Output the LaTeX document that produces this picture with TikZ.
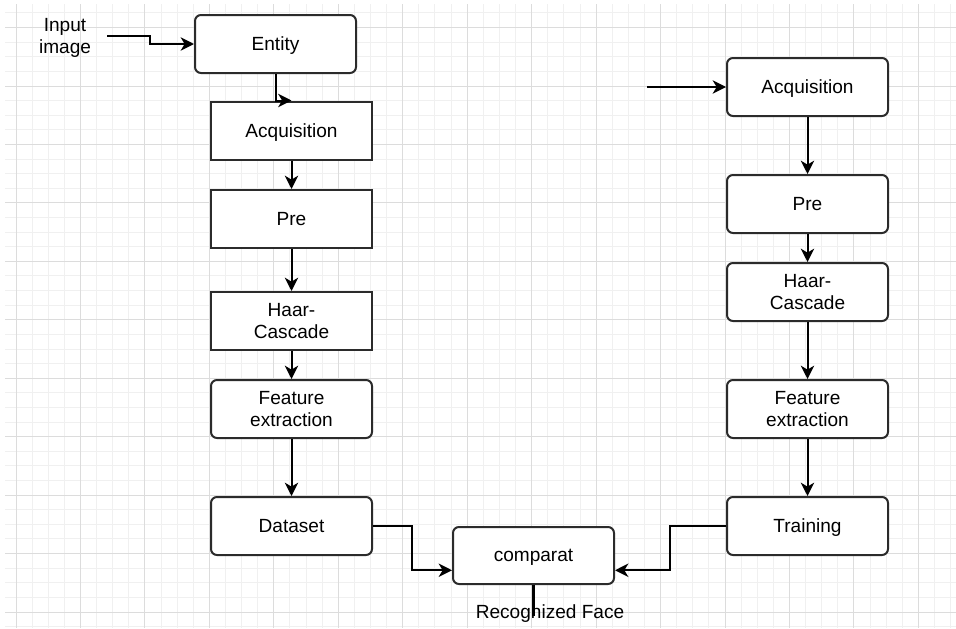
\documentclass[tikz,border=0pt]{standalone}
\usepackage{fontspec}
\setmainfont{Liberation Sans}
\usetikzlibrary{arrows.meta,calc}
\definecolor{gmaj}{HTML}{DCDCDC}
\definecolor{gmin}{HTML}{F0F0F0}
\definecolor{edge}{HTML}{2B2B2B}
\tikzset{
  box/.style={draw=edge, line width=1.5pt, fill=white, minimum width=120.75pt, minimum height=43.5pt,
    align=center, font=\fontsize{14.3pt}{16pt}\selectfont, inner sep=0pt, text depth=0pt},
  rbox/.style={box, rounded corners=4.5pt},
  conn/.style={line width=1.5pt, draw=black},
  arr/.style={conn, -{Stealth[length=10pt,width=10pt,inset=3pt]}},
  lbl/.style={align=center, font=\fontsize{14.3pt}{16pt}\selectfont, inner sep=0pt},
}
\begin{document}
\begin{tikzpicture}[x=0.75pt,y=-0.75pt]
\useasboundingbox (0,0) rectangle (956,628);
\fill[white] (0,0) rectangle (956,628);
\begin{scope}
\clip (5,4) rectangle (956,628);
\foreach \k in {0,...,58} {
  \pgfmathsetmacro{\xx}{16+16.115*\k}
  \draw[gmin, line width=0.75pt] (\xx,0) -- (\xx,628);
}
\foreach \k in {-1,...,41} {
  \pgfmathsetmacro{\yy}{27.6+14.61*\k}
  \draw[gmin, line width=0.75pt] (0,\yy) -- (956,\yy);
}
\foreach \k in {0,...,14} {
  \pgfmathsetmacro{\xx}{16+64.46*\k}
  \draw[gmaj, line width=0.75pt] (\xx,0) -- (\xx,628);
}
\foreach \k in {0,...,10} {
  \pgfmathsetmacro{\yy}{27.6+58.44*\k}
  \draw[gmaj, line width=0.75pt] (0,\yy) -- (956,\yy);
}
\end{scope}

% left column
\node[rbox] (entity) at (275.5,44) {Entity};
\node[box]  (acq1)   at (291.5,130.5) {Acquisition};
\node[box]  (pre1)   at (291.5,219) {Pre};
\node[box]  (haar1)  at (291.5,321) {Haar-\\Cascade};
\node[rbox] (feat1)  at (291.5,409) {Feature\\extraction};
\node[rbox] (data)   at (291.5,526) {Dataset};
% comparator
\node[rbox, minimum height=42.75pt] (comp) at (533.5,555.5) {comparat};
% right column
\node[rbox] (acq2)   at (807.5,87) {Acquisition};
\node[rbox] (pre2)   at (807.5,204) {Pre};
\node[rbox] (haar2)  at (807.5,292) {Haar-\\Cascade};
\node[rbox] (feat2)  at (807.5,409) {Feature\\extraction};
\node[rbox] (train)  at (807.5,526) {Training};

\node[lbl] (input) at (65,38) {Input\\image};
\node[lbl] (rf) at (550,614) {Recognized Face};
\coordinate (inS) at (107,36);
\coordinate (in2S) at (647,87);
\coordinate (rfend) at (533.5,616);

% connectors
\draw[arr] (inS) -- (150,36) |- (entity.west);
\draw[arr] (entity.south) |- (acq1.north);
\draw[arr] (acq1) -- (pre1);
\draw[arr] (pre1) -- (haar1);
\draw[arr] (haar1) -- (feat1);
\draw[arr] (feat1) -- (data);
\coordinate (compL) at ($(comp.south west)!0.25!(comp.north west)$);
\coordinate (compR) at ($(comp.south east)!0.25!(comp.north east)$);
\draw[arr] (data.east) -- (412,526) |- (compL);
\draw[arr] (train.west) -- (670,526) |- (compR);
\draw[arr] (in2S) -- (acq2.west);
\draw[arr] (acq2) -- (pre2);
\draw[arr] (pre2) -- (haar2);
\draw[arr] (haar2) -- (feat2);
\draw[arr] (feat2) -- (train);
\draw[conn, line width=1.8pt] (comp.south) -- (rfend);
\end{tikzpicture}
\end{document}
